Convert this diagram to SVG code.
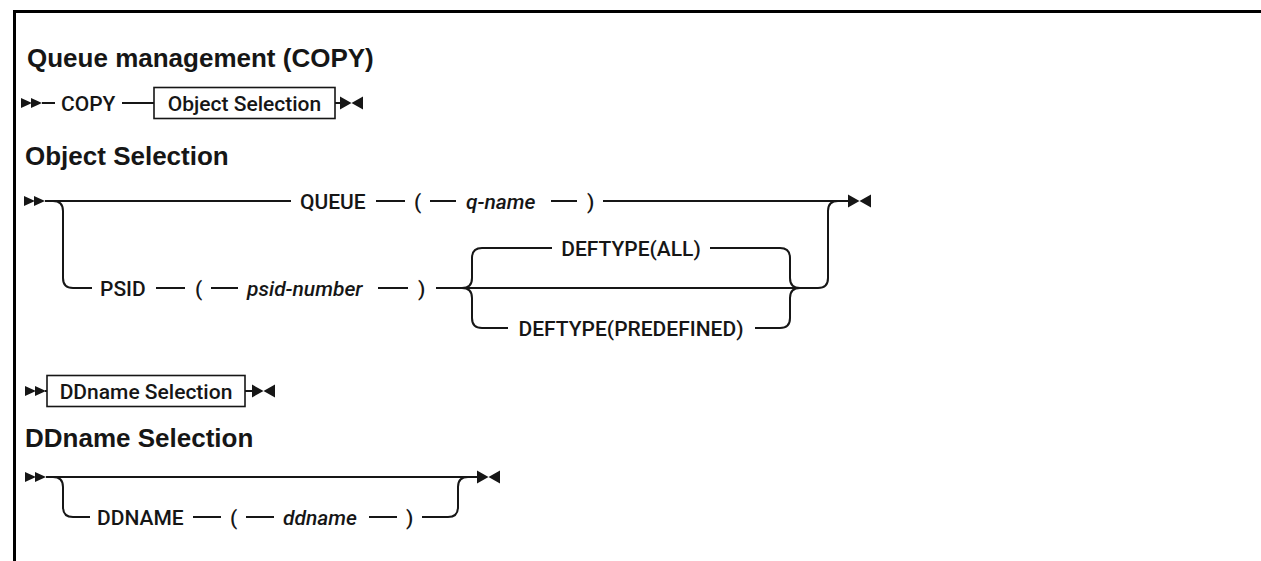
<svg xmlns="http://www.w3.org/2000/svg" width="1261" height="561" viewBox="0 0 1261 561">
<defs>
<style>
.t{font-family:Roboto,"Liberation Sans",Arial,sans-serif;font-size:21px;font-weight:500;fill:#161616}
.i{font-style:italic}
.h{font-family:"Liberation Sans",Arial,sans-serif;font-size:26px;font-weight:bold;fill:#161616}
.ln{stroke:#161616;stroke-width:2;fill:none}
.bx{fill:#fff;stroke:#161616;stroke-width:1.6}
.ar{fill:#161616}
.frame{fill:none;stroke:#000;stroke-width:3}
</style>
<g id="startArrow" class="ar"><path d="M0,-5 L11,0 L0,5 Z M10,-5 L21,0 L10,5 Z"/></g>
<g id="endArrow" class="ar"><path d="M0,-6.5 L11.5,0 L0,6.5 Z M23,-6.5 L11.5,0 L23,6.5 Z"/></g>
</defs>
<rect width="1261" height="561" fill="#fff"/>
<path class="frame" d="M14.5,561 V11.5 H1261"/>

<g id="headings">
<text class="h" x="27" y="67">Queue management (COPY)</text>
<text class="h" x="25" y="165">Object Selection</text>
<text class="h" x="25" y="447">DDname Selection</text>
</g>

<g id="connectors">
<!-- row 1 -->
<use href="#startArrow" x="21" y="103"/>
<path class="ln" d="M42,103 H55 M122,103 H154 M335,103 H340"/>
<use href="#endArrow" x="340" y="103"/>
<!-- object selection -->
<use href="#startArrow" x="24" y="201"/>
<path class="ln" d="M45,201 H291 M376,201 H405 M430,201 H456 M551,201 H577 M603,201 H848"/>
<path class="ln" d="M53,201 Q63,201 63,211 V278 Q63,288 73,288 H92"/>
<path class="ln" d="M156,288 H185 M211,288 H238 M378,288 H408"/>
<path class="ln" d="M436,288 H818 Q828,288 828,278 V211 Q828,201 838,201"/>
<path class="ln" d="M462,288 Q472,288 472,278 V258 Q472,248 482,248 H552"/>
<path class="ln" d="M462,288 Q472,288 472,298 V318 Q472,328 482,328 H508"/>
<path class="ln" d="M710,248 H780 Q790,248 790,258 V278 Q790,288 800,288"/>
<path class="ln" d="M755,328 H780 Q790,328 790,318 V298 Q790,288 800,288"/>
<use href="#endArrow" x="848" y="201"/>
<!-- ddname row -->
<use href="#startArrow" x="25" y="391"/>
<path class="ln" d="M45,391 H47 M245,391 H252"/>
<use href="#endArrow" x="252" y="391"/>
<!-- ddname selection -->
<use href="#startArrow" x="25" y="477"/>
<path class="ln" d="M46,477 H477"/>
<path class="ln" d="M53,477 Q63,477 63,487 V507 Q63,517 73,517 H90"/>
<path class="ln" d="M193,517 H221 M246,517 H274 M369,517 H397"/>
<path class="ln" d="M422,517 H448 Q458,517 458,507 V487 Q458,477 468,477"/>
<use href="#endArrow" x="477" y="477"/>
</g>

<g id="n-copy"><text class="t" x="61" y="110.5">COPY</text></g>
<g id="n-objsel-ref"><rect class="bx" x="154" y="87.5" width="181" height="31"/><text class="t" x="244.5" y="110.5" text-anchor="middle">Object Selection</text></g>

<g id="n-queue"><text class="t" x="300" y="208.5">QUEUE</text></g>
<g id="n-q-lp"><text class="t" x="414" y="208.5">(</text></g>
<g id="n-qname"><text class="t i" x="466" y="208.5">q-name</text></g>
<g id="n-q-rp"><text class="t" x="587" y="208.5">)</text></g>
<g id="n-psid"><text class="t" x="100" y="295.5">PSID</text></g>
<g id="n-p-lp"><text class="t" x="195" y="295.5">(</text></g>
<g id="n-psidnum"><text class="t i" x="247" y="295.5">psid-number</text></g>
<g id="n-p-rp"><text class="t" x="418" y="295.5">)</text></g>
<g id="n-deftype-all"><text class="t" x="631" y="255.5" text-anchor="middle">DEFTYPE(ALL)</text></g>
<g id="n-deftype-predef"><text class="t" x="631" y="335.5" text-anchor="middle">DEFTYPE(PREDEFINED)</text></g>

<g id="n-ddsel-ref"><rect class="bx" x="47" y="375.5" width="198" height="31"/><text class="t" x="146" y="398.5" text-anchor="middle">DDname Selection</text></g>

<g id="n-ddname-kw"><text class="t" x="97" y="524.5">DDNAME</text></g>
<g id="n-d-lp"><text class="t" x="230" y="524.5">(</text></g>
<g id="n-ddname"><text class="t i" x="283" y="524.5">ddname</text></g>
<g id="n-d-rp"><text class="t" x="406" y="524.5">)</text></g>
</svg>
